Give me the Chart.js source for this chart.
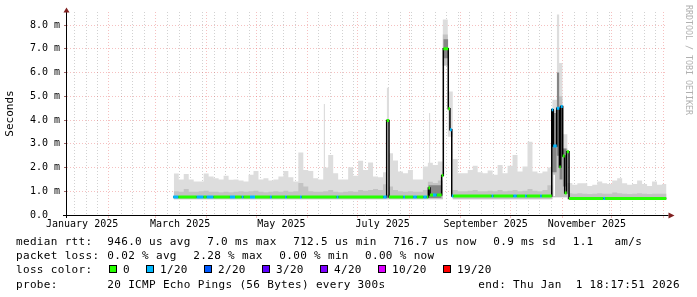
<!DOCTYPE html>
<html lang="en">
<head>
<meta charset="UTF-8">
<title>Smokeping - last 360 days</title>
<script src="https://cdn.jsdelivr.net/npm/chart.js"></script>
<style>
  body { margin: 0; background: #fff; }
  canvas { display: block; }
</style>
</head>
<body>
<canvas id="graph" width="697" height="297"></canvas>
<script>
// x values are days since 2025-01-01 00:00
var xMin = 5.9, xMax = 366.9;

var monthStarts = [31, 59, 90, 120, 151, 181, 212, 243, 273, 304, 334, 365];
var monthLabelDays = [15, 74, 135, 196, 258, 319];
var monthLabels = ['January 2025', 'March 2025', 'May 2025', 'July 2025', 'September 2025', 'November 2025'];
var firstWeekLine = 10.5;

var yTickValues = [0, 1, 2, 3, 4, 5, 6, 7, 8];
var yTickLabels = ['0.0  ', '1.0 m', '2.0 m', '3.0 m', '4.0 m', '5.0 m', '6.0 m', '7.0 m', '8.0 m'];

// smoke, one value per 3 day bin (ms)
var binStart = 70.2, binDays = 3;
var smokeHi = [
  1.75, 1.50, 1.73, 1.50, 1.41, 1.41, 1.75, 1.62, 1.55, 1.50,
  1.65, 1.48, 1.50, 1.45, 1.41, 1.70, 1.85, 1.50, 1.55, 1.45,
  1.50, 1.62, 1.85, 1.59, 1.41, 2.63, 1.90, 1.85, 1.55, 1.50,
  2.00, 2.53, 1.76, 1.50, 1.50, 2.01, 1.65, 2.29, 1.90, 2.21,
  1.62, 1.59, 1.80, 2.60, 2.30, 1.83, 1.76, 1.90, 1.50, 1.50,
  2.04, 2.20, 2.11, 2.25, 8.23, 5.20, 2.36, 1.76, 1.76, 1.90,
  2.07, 1.80, 1.76, 1.87, 1.69, 2.11, 1.76, 2.07, 2.53, 1.83,
  2.04, 3.09, 1.83, 1.76, 1.83, 2.00, 4.85, 6.40, 3.40, 1.35,
  1.27, 1.34, 1.34, 1.22, 1.27, 1.41, 1.34, 1.31, 1.45, 1.55,
  1.34, 1.27, 1.31, 1.45, 1.31, 1.22, 1.41, 1.27, 1.31
];
var smokeMid = [
  1.00, 0.98, 1.10, 0.98, 0.98, 1.00, 1.02, 0.98, 0.98, 0.96,
  0.98, 0.96, 0.98, 1.00, 0.98, 1.00, 1.02, 0.98, 0.96, 0.98,
  1.00, 0.98, 1.02, 0.98, 1.00, 1.35, 1.20, 1.00, 0.98, 0.98,
  1.00, 1.05, 0.98, 0.96, 0.98, 1.00, 0.98, 1.05, 1.02, 1.05,
  1.10, 1.05, 1.30, 1.20, 1.05, 1.00, 0.98, 1.00, 0.98, 0.98,
  1.05, 1.40, 1.35, 1.45, 7.60, 3.30, 1.05, 1.00, 1.00, 1.02,
  1.05, 1.00, 1.00, 1.02, 1.00, 1.05, 1.00, 1.02, 1.05, 1.00,
  1.02, 1.10, 1.02, 1.00, 1.05, 1.25, 4.40, 5.00, 2.80, 0.92,
  0.90, 0.92, 0.90, 0.88, 0.90, 0.92, 0.90, 0.90, 0.95, 0.92,
  0.90, 0.88, 0.90, 0.92, 0.90, 0.88, 0.90, 0.90, 0.90
];
var smokeLo = [
  0.66, 0.66, 0.66, 0.66, 0.66, 0.66, 0.66, 0.66, 0.66, 0.66,
  0.66, 0.66, 0.66, 0.66, 0.66, 0.66, 0.66, 0.66, 0.66, 0.66,
  0.66, 0.66, 0.66, 0.66, 0.66, 0.66, 0.66, 0.66, 0.66, 0.66,
  0.66, 0.66, 0.66, 0.66, 0.66, 0.66, 0.66, 0.66, 0.66, 0.66,
  0.66, 0.66, 0.66, 0.66, 0.66, 0.66, 0.66, 0.66, 0.66, 0.66,
  0.66, 0.66, 0.66, 0.66, 6.30, 3.30, 0.66, 0.66, 0.66, 0.66,
  0.66, 0.66, 0.66, 0.66, 0.66, 0.66, 0.66, 0.66, 0.66, 0.66,
  0.66, 0.66, 0.66, 0.66, 0.66, 0.66, 0.75, 0.75, 0.75, 0.66,
  0.66, 0.66, 0.66, 0.66, 0.66, 0.66, 0.66, 0.66, 0.66, 0.66,
  0.66, 0.66, 0.66, 0.66, 0.66, 0.66, 0.66, 0.66, 0.66
];

// narrow smoke features (day ranges, ms)
var spikeFrom = [160.4, 198.4, 223.9, 300.8];
var spikeTo   = [161.3, 199.8, 224.7, 302.4];
var spikeLo   = [1.00, 3.98, 1.30, 4.50];
var spikeHi   = [4.68, 5.36, 4.30, 8.44];

var darkFrom = [223.5, 232.5, 298.0, 300.8, 302.4, 304.4];
var darkTo   = [231.5, 235.5, 300.8, 302.4, 304.4, 306.8];
var darkLo   = [0.72, 6.60, 1.80, 2.50, 1.50, 1.20];
var darkHi   = [1.25, 7.40, 4.30, 6.00, 4.60, 2.80];

var gapFrom = [198.4, 298.7];
var gapTo   = [199.8, 299.8];
var gapLo   = [0.85, 0.80];
var gapHi   = [3.98, 1.70];

// median rtt steps (start day, ms, lost pings of 20)
var medDays = [69.9, 72.9, 84.0, 88.0, 90.0, 94.0, 104.0, 107.1, 111.1, 112.1,
  116.1, 119.1, 128.1, 129.2, 137.2, 138.2, 146.2, 147.2, 168.3, 169.3,
  196.4, 198.4, 199.8, 208.4, 209.4, 214.4, 216.5, 220.5, 222.5, 223.5,
  224.5, 226.3, 228.5, 231.5, 232.5, 235.5, 236.5, 237.6, 238.5, 261.6,
  262.6, 274.7, 276.7, 281.7, 282.7, 290.8, 291.8, 297.8, 298.7, 300.8,
  302.4, 303.2, 304.4, 305.6, 306.8, 308.2, 328.9, 329.9];
var medVals = [0.76, 0.76, 0.76, 0.76, 0.76, 0.76, 0.76, 0.76, 0.76, 0.76,
  0.76, 0.76, 0.76, 0.76, 0.76, 0.76, 0.76, 0.76, 0.76, 0.76,
  0.76, 3.98, 0.76, 0.76, 0.76, 0.76, 0.76, 0.76, 0.76, 1.14,
  0.84, 0.84, 0.84, 1.66, 7.00, 4.47, 3.59, 0.80, 0.80, 0.80,
  0.80, 0.80, 0.80, 0.80, 0.80, 0.80, 0.80, 4.43, 2.91, 4.50,
  2.02, 4.57, 2.49, 0.93, 2.66, 0.70, 0.70, 0.70];
var medLoss = [1, 0, 1, 0, 1, 0, 1, 0, 1, 0,
  1, 0, 1, 0, 1, 0, 1, 0, 1, 0,
  1, 0, 0, 1, 0, 1, 0, 1, 0, 0,
  0, 1, 0, 0, 0, 0, 1, 1, 0, 1,
  0, 1, 0, 1, 0, 1, 0, 1, 1, 1,
  0, 1, 0, 0, 0, 0, 1, 0];

var lossLevels = ['0', '1/20', '2/20', '3/20', '4/20', '10/20', '19/20'];
var lossColors = ['#26ff00', '#00b8ff', '#0059ff', '#5e00ff', '#7e00ff', '#dd00ff', '#ff0000'];

var rttStats = ['946.0 us avg', '7.0 ms max', '712.5 us min', '716.7 us now', '0.9 ms sd', '1.1   am/s'];
var lossStats = ['0.02 % avg', '2.28 % max', '0.00 % min', '0.00 % now'];
var probeText = '20 ICMP Echo Pings (56 Bytes) every 300s';
var endText = 'end: Thu Jan  1 18:17:51 2026';

var MONO = 'DejaVu Sans Mono';
var GRID = 'rgba(140,140,140,0.4)';
var MGRID = 'rgba(225,60,60,0.32)';

var datasets = [];

function binPoints(vals) {
  var pts = vals.map(function (v, i) { return { x: binStart + i * binDays, y: v }; });
  pts.push({ x: binStart + vals.length * binDays, y: vals[vals.length - 1] });
  return pts;
}

function addBand(loPts, hiPts, color) {
  var loIndex = datasets.length;
  datasets.push({ data: loPts, borderWidth: 0, borderColor: 'rgba(0,0,0,0)', pointRadius: 0, fill: false, stepped: true });
  datasets.push({ data: hiPts, borderWidth: 0, borderColor: 'rgba(0,0,0,0)', pointRadius: 0, fill: loIndex, backgroundColor: color, stepped: true });
}

function addPieces(from, to, lo, hi, color) {
  for (var i = 0; i < from.length; i++) {
    addBand([{ x: from[i], y: lo[i] }, { x: to[i], y: lo[i] }],
            [{ x: from[i], y: hi[i] }, { x: to[i], y: hi[i] }], color);
  }
}

// bottom to top
addBand(binPoints(smokeLo), binPoints(smokeHi), '#dddddd');
addPieces(spikeFrom, spikeTo, spikeLo, spikeHi, '#dddddd');
addBand(binPoints(smokeLo), binPoints(smokeMid), '#c3c3c3');
addPieces(darkFrom, darkTo, darkLo, darkHi, '#858585');
addPieces(gapFrom, gapTo, gapLo, gapHi, '#ffffff');

var medLine = medDays.map(function (d, i) { return { x: d, y: medVals[i] }; });
medLine.push({ x: xMax, y: medVals[medVals.length - 1] });
datasets.push({ data: medLine, borderColor: '#000', borderWidth: 1.5, pointRadius: 0, fill: false, stepped: true });

[0, 1].forEach(function (level) {
  var pts = [];
  for (var i = 0; i < medDays.length; i++) {
    if (medLoss[i] !== level) continue;
    var end = i + 1 < medDays.length ? medDays[i + 1] : xMax;
    pts.push({ x: medDays[i], y: medVals[i] }, { x: end, y: medVals[i] }, { x: end, y: null });
  }
  datasets.push({ data: pts, borderColor: lossColors[level], borderWidth: 3, borderCapStyle: 'butt',
    pointRadius: 0, fill: false });
});

datasets.forEach(function (d, i) { d.order = datasets.length - i; });

var xTicks = monthStarts.concat(monthLabelDays);
for (var w = firstWeekLine; w < xMax; w += 7) {
  var nearMonth = monthStarts.some(function (m) { return Math.abs(m - w) < 1; });
  if (!nearMonth) xTicks.push(w);
}
xTicks = xTicks.filter(function (v) { return v >= xMin && v <= xMax; }).sort(function (a, b) { return a - b; });

var frame = {
  id: 'frame',
  afterDraw: function (chart) {
    var ctx = chart.ctx, a = chart.chartArea;
    ctx.save();
    ctx.strokeStyle = '#000';
    ctx.lineWidth = 1;
    ctx.beginPath();
    ctx.moveTo(a.left - 4, a.bottom + 0.5);
    ctx.lineTo(a.right + 2, a.bottom + 0.5);
    ctx.moveTo(a.left - 0.5, a.bottom + 3);
    ctx.lineTo(a.left - 0.5, a.top);
    ctx.stroke();
    ctx.fillStyle = '#802020';
    ctx.beginPath();
    ctx.moveTo(a.right + 2, a.bottom - 2.5);
    ctx.lineTo(a.right + 8, a.bottom + 0.5);
    ctx.lineTo(a.right + 2, a.bottom + 3.5);
    ctx.closePath();
    ctx.moveTo(a.left - 3.5, a.top + 0.5);
    ctx.lineTo(a.left - 0.5, a.top - 4.5);
    ctx.lineTo(a.left + 2.5, a.top + 0.5);
    ctx.closePath();
    ctx.fill();

    // watermark
    ctx.save();
    ctx.translate(688.5, 5);
    ctx.rotate(Math.PI / 2);
    ctx.font = '8.3px "' + MONO + '"';
    ctx.fillStyle = '#b0b0b0';
    ctx.textBaseline = 'middle';
    ctx.fillText('RRDTOOL / TOBI OETIKER', 0, 0);
    ctx.restore();

    // legend block
    ctx.font = '11px "' + MONO + '"';
    if ('letterSpacing' in ctx) ctx.letterSpacing = '0.33px';
    ctx.fillStyle = '#000';
    ctx.textBaseline = 'alphabetic';
    var rows = [244.5, 259, 273.3, 287.7];
    ctx.fillText('median rtt:', 16, rows[0]);
    [107.3, 207.2, 293.2, 393.3, 493.3, 572.7].forEach(function (x, i) { ctx.fillText(rttStats[i], x, rows[0]); });
    ctx.fillText('packet loss:', 16, rows[1]);
    [107.3, 193.3, 279.3, 365].forEach(function (x, i) { ctx.fillText(lossStats[i], x, rows[1]); });
    ctx.fillText('loss color:', 16, rows[2]);
    [109, 146, 204, 262, 320, 378, 443].forEach(function (x, i) {
      ctx.fillStyle = lossColors[i];
      ctx.fillRect(x, 265, 7, 7);
      ctx.strokeStyle = '#000';
      ctx.strokeRect(x + 0.5, 265.5, 7, 7);
      ctx.fillStyle = '#000';
      ctx.fillText(lossLevels[i], x + 14, rows[2]);
    });
    ctx.fillText('probe:', 16, rows[3]);
    ctx.fillText(probeText, 107.3, rows[3]);
    ctx.fillText(endText, 478.3, rows[3]);
    ctx.restore();
  }
};

new Chart(document.getElementById('graph'), {
  type: 'line',
  data: { datasets: datasets },
  options: {
    responsive: false,
    animation: false,
    devicePixelRatio: 1,
    events: [],
    layout: { padding: { left: 0, right: 30.5, top: 12, bottom: 0 } },
    plugins: { legend: { display: false }, tooltip: { enabled: false }, colors: { enabled: false } },
    scales: {
      x: {
        type: 'linear',
        bounds: 'data',
        min: xMin,
        max: xMax,
        z: 1,
        afterBuildTicks: function (s) { s.ticks = xTicks.map(function (v) { return { value: v }; }); },
        afterFit: function (s) { s.height = 82; },
        border: { display: false, dash: [1, 2] },
        grid: {
          color: function (c) {
            var v = c.tick ? c.tick.value : null;
            if (monthStarts.indexOf(v) >= 0) return MGRID;
            if (monthLabelDays.indexOf(v) >= 0) return 'rgba(0,0,0,0)';
            return GRID;
          },
          tickColor: function (c) {
            return c.tick && monthStarts.indexOf(c.tick.value) >= 0 ? MGRID : 'rgba(0,0,0,0)';
          },
          tickLength: 3
        },
        ticks: {
          autoSkip: false,
          maxRotation: 0,
          padding: 0,
          color: '#000',
          font: { family: MONO, size: 10 },
          callback: function (v) {
            var i = monthLabelDays.indexOf(v);
            return i >= 0 ? monthLabels[i] : '';
          }
        }
      },
      y: {
        type: 'linear',
        min: 0,
        max: 8.55,
        z: 1,
        afterBuildTicks: function (s) {
          var t = [];
          for (var v = 0; v <= 8.5; v += 0.5) t.push({ value: v });
          s.ticks = t;
        },
        afterFit: function (s) { s.width = 67; },
        border: { display: false, dash: [1, 2] },
        grid: {
          color: function (c) {
            return c.tick && yTickValues.indexOf(c.tick.value) >= 0 ? MGRID : GRID;
          },
          tickColor: function (c) {
            return c.tick && yTickValues.indexOf(c.tick.value) >= 0 ? 'rgba(120,40,40,0.7)' : 'rgba(0,0,0,0)';
          },
          tickLength: 3
        },
        ticks: {
          padding: 4,
          color: '#000',
          font: { family: MONO, size: 10 },
          callback: function (v) {
            var i = yTickValues.indexOf(v);
            return i >= 0 ? yTickLabels[i] : '';
          }
        },
        title: {
          display: true,
          text: 'Seconds',
          color: '#000',
          font: { family: MONO, size: 11 },
          padding: { top: 4, bottom: 0 }
        }
      }
    }
  },
  plugins: [frame]
});
</script>
</body>
</html>
